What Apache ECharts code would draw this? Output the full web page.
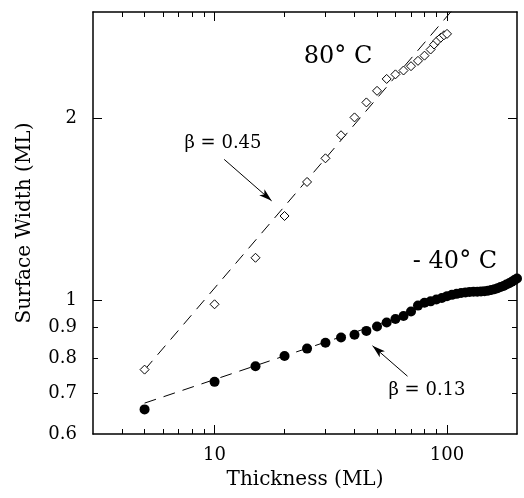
<!DOCTYPE html>
<html>
<head>
<meta charset="utf-8">
<script src="https://cdn.jsdelivr.net/npm/echarts@6/dist/echarts.min.js"></script>
<style>
  html, body { margin: 0; padding: 0; background: #fff; }
</style>
</head>
<body>
<div id="surfaceWidth" style="width: 524px;height:498px;"></div>

<script>
// 80 C, open diamonds
var hotThickness = [5, 10, 15, 20, 25, 30, 35, 40, 45, 50, 55, 60, 65, 70, 75, 80, 85, 88, 91, 94, 97, 100];
var hotWidth = [0.767, 0.984, 1.175, 1.378, 1.569, 1.717, 1.875, 2.007, 2.125, 2.221, 2.324, 2.365, 2.40, 2.44, 2.49, 2.54, 2.60, 2.65, 2.69, 2.72, 2.745, 2.76];

// -40 C, filled circles
var coldThickness = [5, 10, 15, 20, 25, 30, 35, 40, 45, 50, 55, 60, 65, 70, 75,
	80, 85, 90, 95, 100, 105, 110, 115, 120, 125, 130, 135, 140, 145, 150,
	155, 160, 165, 170, 175, 180, 185, 190, 195, 200];
var coldWidth = [0.659, 0.732, 0.777, 0.808, 0.831, 0.850, 0.867, 0.876, 0.889, 0.904, 0.918, 0.930, 0.941, 0.957, 0.979,
	0.990, 0.995, 1.002, 1.008, 1.015, 1.020, 1.024, 1.027, 1.029, 1.031, 1.032, 1.032, 1.033, 1.034, 1.036,
	1.039, 1.042, 1.046, 1.051, 1.055, 1.061, 1.066, 1.072, 1.079, 1.086];

// dashed power-law fits (end points)
var hotFit = [[5, 0.766], [110, 3.08]];
var coldFit = [[5, 0.675], [70, 0.951]];

// ticks
var xLabelTicks = [10, 100];
var xMinorTicks = [4, 5, 6, 7, 8, 9, 20, 30, 40, 50, 60, 70, 80, 90];
var yLabelTicks = [0.6, 0.7, 0.8, 0.9, 1, 2];
var yMajorTicks = [1, 2];
var yMinorTicks = [0.7, 0.8, 0.9];

function zip(a, b) {
	return a.map(function (v, i) { return [v, b[i]]; });
}

var serif = 'DejaVu Serif';
var black = '#000';

function fmt(v) {
	return String(+(+v).toPrecision(4));
}

function xAx(pos, ticks, len, showLine, labels) {
	return {
		type: 'log', logBase: 10, min: 3, max: 200, position: pos,
		axisLine: { show: showLine, lineStyle: { color: black, width: 1.5 } },
		axisTick: { show: true, inside: true, length: len, customValues: ticks, lineStyle: { color: black, width: 1 } },
		axisLabel: labels ? { show: true, customValues: labels, formatter: fmt, color: black, fontFamily: serif, fontSize: 18, margin: 12 } : { show: false },
		splitLine: { show: false },
		minorTick: { show: false }
	};
}

function yAx(pos, ticks, len, showLine, labels) {
	return {
		type: 'log', logBase: 10, min: 0.6, max: 3, position: pos,
		axisLine: { show: showLine, lineStyle: { color: black, width: 1.5 } },
		axisTick: { show: true, inside: true, length: len, customValues: ticks, lineStyle: { color: black, width: 1 } },
		axisLabel: labels ? { show: true, customValues: labels, formatter: fmt, color: black, fontFamily: serif, fontSize: 18, margin: 16 } : { show: false },
		splitLine: { show: false },
		minorTick: { show: false }
	};
}

var xAxes = [
	xAx('bottom', xMinorTicks, 5, true, xLabelTicks),
	xAx('bottom', xLabelTicks, 9, false, null),
	xAx('top', xMinorTicks, 5, true, null),
	xAx('top', xLabelTicks, 9, false, null)
];
xAxes[0].name = 'Thickness (ML)';
xAxes[0].nameLocation = 'middle';
xAxes[0].nameGap = 36;
xAxes[0].nameTextStyle = { color: black, fontFamily: serif, fontSize: 20 };

var yAxes = [
	yAx('left', yMinorTicks, 5, true, yLabelTicks),
	yAx('left', yMajorTicks, 9, false, null),
	yAx('right', yMinorTicks, 5, true, null),
	yAx('right', yMajorTicks, 9, false, null)
];
yAxes[0].name = 'Surface Width (ML)';
yAxes[0].nameLocation = 'middle';
yAxes[0].nameGap = 58;
yAxes[0].nameTextStyle = { color: black, fontFamily: serif, fontSize: 20 };

var arrowStyle = { color: black, width: 1, type: 'solid' };

var chart = echarts.init(document.getElementById('surfaceWidth'));

chart.setOption({
	backgroundColor: '#fff',
	animation: false,
	grid: { left: 93, top: 12, right: 7, bottom: 64, containLabel: false },
	xAxis: xAxes,
	yAxis: yAxes,
	series: [
		{
			name: 'hot fit',
			type: 'line',
			data: hotFit,
			showSymbol: false,
			symbol: 'none',
			lineStyle: { color: black, width: 1, type: [12, 8] },
			z: 1,
			markLine: {
				silent: true,
				symbol: ['none', 'arrow'],
				symbolSize: [6, 13],
				lineStyle: arrowStyle,
				label: { show: false },
				data: [[{ coord: [11.0, 1.71] }, { coord: [17.6, 1.46] }]]
			}
		},
		{
			name: 'cold fit',
			type: 'line',
			data: coldFit,
			showSymbol: false,
			symbol: 'none',
			lineStyle: { color: black, width: 1, type: [12, 8] },
			z: 1,
			markLine: {
				silent: true,
				symbol: ['none', 'arrow'],
				symbolSize: [6, 13],
				lineStyle: arrowStyle,
				label: { show: false },
				data: [[{ coord: [67.6, 0.748] }, { coord: [47.8, 0.840] }]]
			}
		},
		{
			name: '80 C',
			type: 'scatter',
			data: zip(hotThickness, hotWidth),
			symbol: 'diamond',
			symbolSize: 9,
			itemStyle: { color: '#fff', borderColor: black, borderWidth: 1, opacity: 1 },
			z: 3
		},
		{
			name: '-40 C',
			type: 'scatter',
			data: zip(coldThickness, coldWidth),
			symbol: 'circle',
			symbolSize: 10,
			itemStyle: { color: black, opacity: 1 },
			z: 3
		}
	],
	graphic: [
		{ type: 'text', x: 338, y: 57, style: { text: '80° C', font: '24px "DejaVu Serif"', fill: black, textAlign: 'center', textVerticalAlign: 'middle' } },
		{ type: 'text', x: 455, y: 262, style: { text: '- 40° C', font: '24px "DejaVu Serif"', fill: black, textAlign: 'center', textVerticalAlign: 'middle' } },
		{ type: 'text', x: 223, y: 143, style: { text: 'β = 0.45', font: '18px "DejaVu Serif"', fill: black, textAlign: 'center', textVerticalAlign: 'middle' } },
		{ type: 'text', x: 427, y: 390, style: { text: 'β = 0.13', font: '18px "DejaVu Serif"', fill: black, textAlign: 'center', textVerticalAlign: 'middle' } }
	]
});
</script>
</body>
</html>
